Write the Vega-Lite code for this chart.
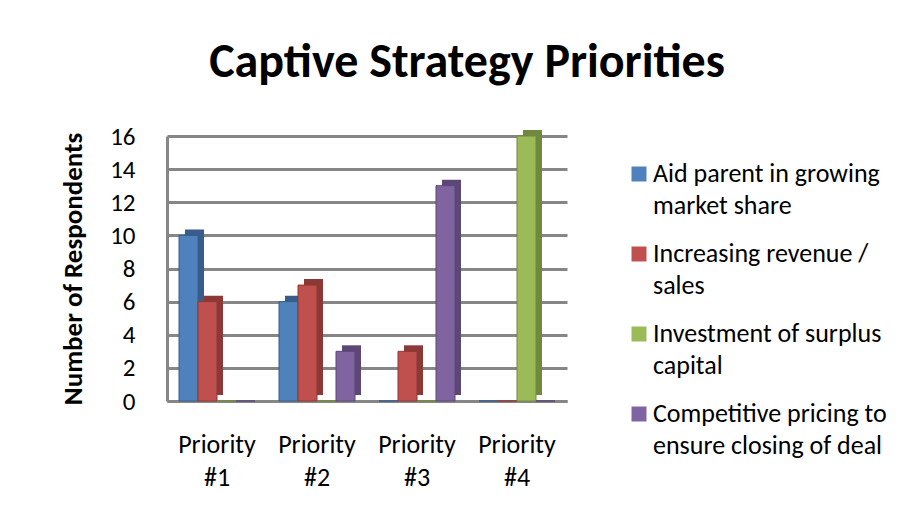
{
  "$schema": "https://vega.github.io/schema/vega-lite/v6.json",
  "width": 400,
  "height": 265,
  "autosize": {"type": "none"},
  "padding": {"left": 167, "top": 136, "right": 355, "bottom": 124},
  "background": "white",
  "title": {
    "text": "Captive Strategy Priorities",
    "font": "Carlito, Lato, sans-serif",
    "fontSize": 48,
    "fontWeight": "bold",
    "color": "black",
    "anchor": "middle",
    "frame": "group",
    "dx": 100,
    "offset": 37
  },
  "config": {
    "view": {"stroke": null},
    "font": "Carlito, Lato, sans-serif"
  },
  "data": {
    "values": [
      {"priority": "Priority #1", "series": "Aid parent in growing market share", "count": 10},
      {"priority": "Priority #1", "series": "Increasing revenue / sales", "count": 6},
      {"priority": "Priority #1", "series": "Investment of surplus capital", "count": 0},
      {"priority": "Priority #1", "series": "Competitive pricing to ensure closing of deal", "count": 0},
      {"priority": "Priority #2", "series": "Aid parent in growing market share", "count": 6},
      {"priority": "Priority #2", "series": "Increasing revenue / sales", "count": 7},
      {"priority": "Priority #2", "series": "Investment of surplus capital", "count": 0},
      {"priority": "Priority #2", "series": "Competitive pricing to ensure closing of deal", "count": 3},
      {"priority": "Priority #3", "series": "Aid parent in growing market share", "count": 0},
      {"priority": "Priority #3", "series": "Increasing revenue / sales", "count": 3},
      {"priority": "Priority #3", "series": "Investment of surplus capital", "count": 0},
      {"priority": "Priority #3", "series": "Competitive pricing to ensure closing of deal", "count": 13},
      {"priority": "Priority #4", "series": "Aid parent in growing market share", "count": 0},
      {"priority": "Priority #4", "series": "Increasing revenue / sales", "count": 0},
      {"priority": "Priority #4", "series": "Investment of surplus capital", "count": 16},
      {"priority": "Priority #4", "series": "Competitive pricing to ensure closing of deal", "count": 0}
    ]
  },
  "encoding": {
    "x": {
      "field": "priority",
      "type": "nominal",
      "sort": ["Priority #1", "Priority #2", "Priority #3", "Priority #4"],
      "scale": {"paddingInner": 0.24, "paddingOuter": 0.12},
      "axis": {
        "title": null,
        "labelAngle": 0,
        "labelExpr": "['Priority', replace(datum.label, 'Priority ', '')]",
        "labelFontSize": 26,
        "labelLineHeight": 33,
        "labelColor": "black",
        "labelPadding": 30,
        "ticks": false,
        "tickSize": 0,
        "domainColor": "#868686",
        "domainWidth": 3
      }
    },
    "y": {
      "field": "count",
      "type": "quantitative",
      "scale": {"domain": [0, 16], "nice": false},
      "axis": {
        "title": "Number of Respondents",
        "titleFontSize": 27,
        "titleFontWeight": "bold",
        "titleColor": "black",
        "titlePadding": 22,
        "values": [0, 2, 4, 6, 8, 10, 12, 14, 16],
        "labelFontSize": 25,
        "labelColor": "black",
        "labelPadding": 32,
        "ticks": false,
        "tickSize": 0,
        "domainColor": "#868686",
        "domainWidth": 3,
        "gridColor": "#868686",
        "gridWidth": 3
      }
    }
  },
  "layer": [
    {
      "mark": {"type": "bar", "yOffset": -6},
      "encoding": {
        "xOffset": {
          "field": "series",
          "type": "nominal",
          "sort": ["Aid parent in growing market share", "Increasing revenue / sales", "Investment of surplus capital", "Competitive pricing to ensure closing of deal"],
          "scale": {"paddingInner": 0, "paddingOuter": 0, "range": [6, 82]}
        },
        "color": {
          "field": "series",
          "type": "nominal",
          "scale": {
            "domain": ["Aid parent in growing market share", "Increasing revenue / sales", "Investment of surplus capital", "Competitive pricing to ensure closing of deal"],
            "range": ["#385D8A", "#8C3836", "#71893F", "#5C4776"]
          },
          "legend": null
        }
      }
    },
    {
      "mark": {"type": "bar", "strokeWidth": 1},
      "encoding": {
        "xOffset": {
          "field": "series",
          "type": "nominal",
          "sort": ["Aid parent in growing market share", "Increasing revenue / sales", "Investment of surplus capital", "Competitive pricing to ensure closing of deal"],
          "scale": {"paddingInner": 0, "paddingOuter": 0}
        },
        "color": {
          "field": "series",
          "type": "nominal",
          "scale": {
            "domain": ["Aid parent in growing market share", "Increasing revenue / sales", "Investment of surplus capital", "Competitive pricing to ensure closing of deal"],
            "range": ["#4F81BD", "#C0504D", "#9BBB59", "#8064A2"]
          },
          "legend": {
            "title": null,
            "orient": "right",
            "offset": 34,
            "padding": 25,
            "symbolType": "square",
            "symbolSize": 225,
            "symbolStrokeWidth": 0,
            "labelFontSize": 26,
            "labelColor": "black",
            "labelLimit": 400,
            "labelOffset": 1,
            "rowPadding": 22,
            "labelExpr": "datum.label == 'Aid parent in growing market share' ? ['Aid parent in growing', 'market share'] : datum.label == 'Increasing revenue / sales' ? ['Increasing revenue /', 'sales'] : datum.label == 'Investment of surplus capital' ? ['Investment of surplus', 'capital'] : ['Competitive pricing to', 'ensure closing of deal']",
            "encode": {"labels": {"update": {"lineHeight": {"value": 32}}}}
          }
        },
        "stroke": {
          "field": "series",
          "type": "nominal",
          "scale": {
            "domain": ["Aid parent in growing market share", "Increasing revenue / sales", "Investment of surplus capital", "Competitive pricing to ensure closing of deal"],
            "range": ["#385D8A", "#8C3836", "#71893F", "#5C4776"]
          },
          "legend": null
        }
      }
    }
  ],
  "resolve": {"scale": {"color": "independent", "xOffset": "independent"}}
}
